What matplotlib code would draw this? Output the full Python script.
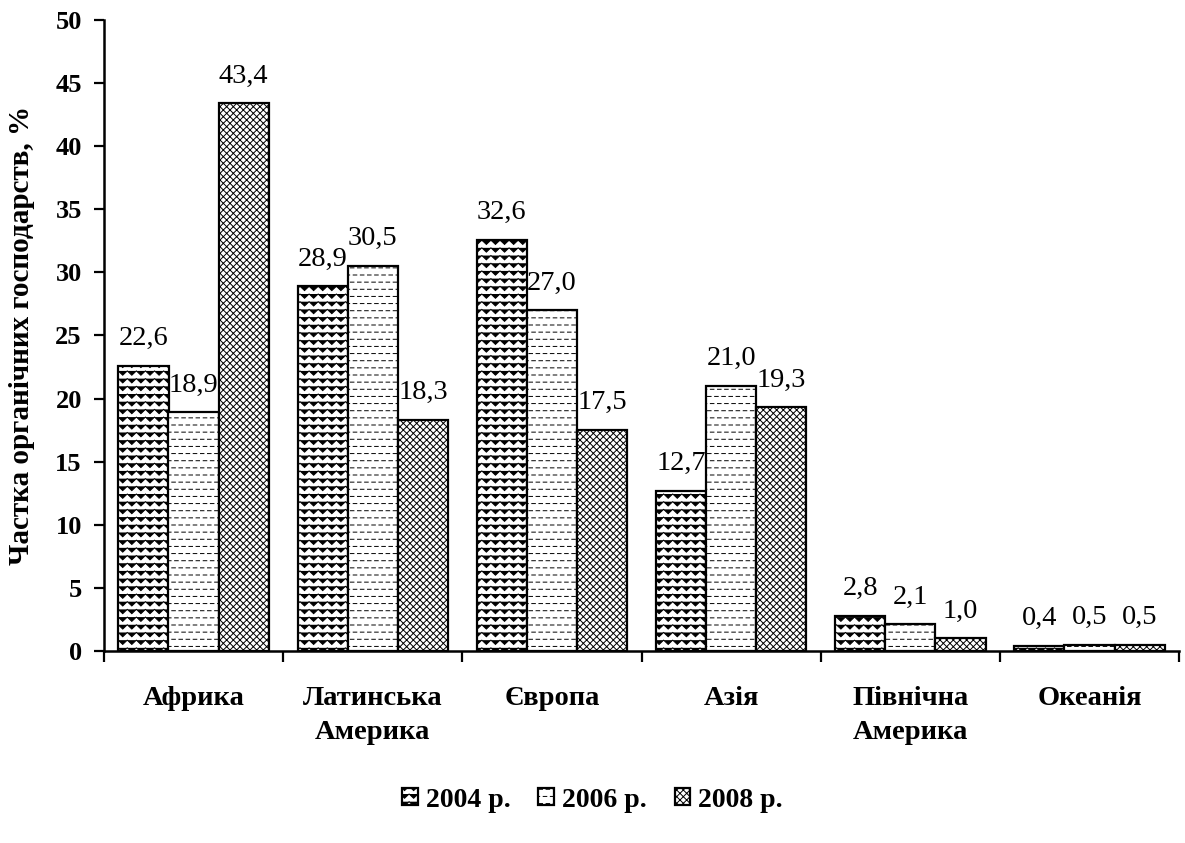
import warnings

import numpy as np
import matplotlib
matplotlib.use("Agg")
import matplotlib.pyplot as plt
import matplotlib.hatch as mhatch
from matplotlib.path import Path

warnings.filterwarnings("ignore")

regions = ["Африка", "Латинська\nАмерика", "Європа", "Азія",
           "Північна\nАмерика", "Океанія"]
years = ["2004 р.", "2006 р.", "2008 р."]
v2004 = [22.6, 28.9, 32.6, 12.7, 2.8, 0.4]
v2006 = [18.9, 30.5, 27.0, 21.0, 2.1, 0.5]
v2008 = [43.4, 18.3, 17.5, 19.3, 1.0, 0.5]


# custom hatches: 'z' = wavy lines, 'd' = staggered dashes
class WaveHatch(mhatch.HatchPatternBase):
    def __init__(self, hatch, density):
        self.num_lines = hatch.count("z") * 13
        self.num_periods = 11
        self.num_vertices = self.num_lines * (2 * self.num_periods + 1)

    def set_vertices_and_codes(self, vertices, codes):
        npts = 2 * self.num_periods + 1
        xs = np.linspace(0.0, 1.0, npts)
        amp = 0.28 / max(self.num_lines, 1)
        wobble = amp * np.where(np.arange(npts) % 2 == 0, 1.0, -1.0)
        for i in range(self.num_lines):
            y = (i + 0.5) / self.num_lines
            sl = slice(i * npts, (i + 1) * npts)
            vertices[sl, 0] = xs
            vertices[sl, 1] = y + wobble
            codes[sl] = Path.LINETO
            codes[i * npts] = Path.MOVETO


class DashHatch(mhatch.HatchPatternBase):
    def __init__(self, hatch, density):
        self.num_lines = hatch.count("d") * 14
        self.num_dashes = 14
        self.num_vertices = self.num_lines * self.num_dashes * 2

    def set_vertices_and_codes(self, vertices, codes):
        p = 1.0 / self.num_dashes
        k = 0
        for i in range(self.num_lines):
            y = (i + 0.5) / self.num_lines
            off = 0.05 * p if i % 2 == 0 else 0.45 * p
            for j in range(self.num_dashes):
                x0 = j * p + off
                vertices[k] = (x0, y)
                vertices[k + 1] = (x0 + 0.5 * p, y)
                codes[k] = Path.MOVETO
                codes[k + 1] = Path.LINETO
                k += 2


mhatch._hatch_types.extend([WaveHatch, DashHatch])

plt.rcParams["font.family"] = ["Liberation Serif", "DejaVu Serif"]
plt.rcParams["hatch.linewidth"] = 0.7
plt.rcParams["hatch.color"] = "black"

fig = plt.figure(figsize=(11.85, 8.43), dpi=100)
ax = fig.add_axes([104 / 1185, 1 - 651 / 843, 1075 / 1185, 631 / 843])

x = np.arange(len(regions))
width = 0.28
series = [(v2004, "z"), (v2006, "d"), (v2008, "xxxxx")]

handles = []
for k, (vals, hatch) in enumerate(series):
    bars = ax.bar(x + (k - 1) * width, vals, width, color="white",
                  edgecolor="black", linewidth=1.6, hatch=hatch,
                  label=years[k])
    handles.append(bars)
    for rect, v in zip(bars, vals):
        ax.annotate(f"{v:.1f}".replace(".", ","),
                    (rect.get_x() + rect.get_width() / 2, rect.get_height()),
                    xytext=(0, 15), textcoords="offset points",
                    ha="center", va="baseline", fontsize=20.5)

ax.set_xlim(-0.5, len(regions) - 0.5)
ax.set_ylim(0, 50)
ax.set_yticks(np.arange(0, 51, 5))
ax.tick_params(axis="y", direction="out", length=7, width=1.6,
               labelsize=19, pad=9)
for lab in ax.get_yticklabels():
    lab.set_fontweight("bold")

ax.set_xticks(x)
ax.set_xticklabels(regions, fontsize=20.5, fontweight="bold",
                   linespacing=1.5, va="top")
ax.tick_params(axis="x", which="major", length=0, pad=25)
ax.set_xticks(np.arange(-0.5, len(regions)), minor=True)
ax.tick_params(axis="x", which="minor", direction="out", length=8,
               width=1.6)

for side in ("top", "right"):
    ax.spines[side].set_visible(False)
for side in ("left", "bottom"):
    ax.spines[side].set_linewidth(1.8)

ax.set_ylabel("Частка органічних господарств, %", fontsize=21,
              fontweight="bold")
ax.yaxis.set_label_coords(-0.064, 0.5)

fig.legend(handles=handles, loc="center", bbox_to_anchor=(0.5, 0.051),
           ncol=3, frameon=False, handlelength=0.55, handleheight=0.55,
           handletextpad=0.3, columnspacing=1.0,
           prop={"size": 20, "weight": "bold"})

fig.savefig("out.png", dpi=100)
